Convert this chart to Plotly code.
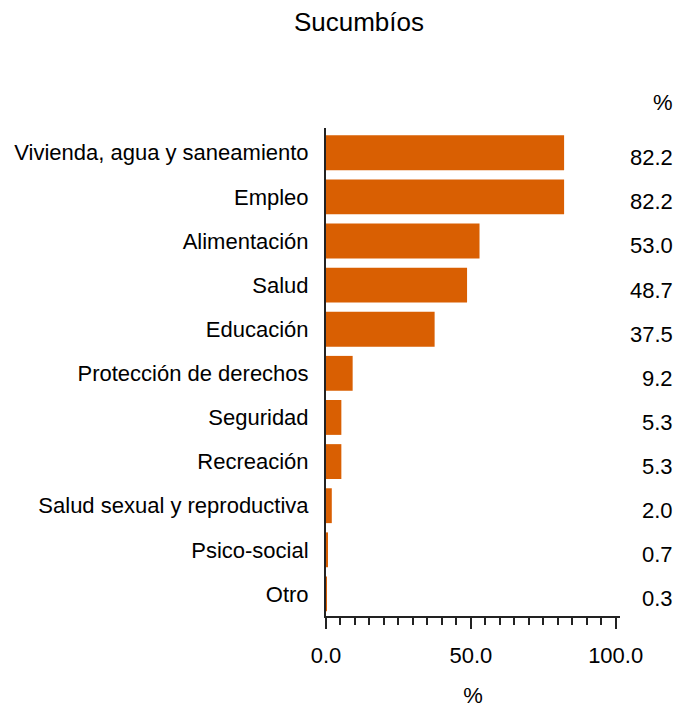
import plotly.graph_objects as go

categories = ["Vivienda, agua y saneamiento", "Empleo", "Alimentación", "Salud", "Educación",
              "Protección de derechos", "Seguridad", "Recreación",
              "Salud sexual y reproductiva", "Psico-social", "Otro"]
values = [82.2, 82.2, 53.0, 48.7, 37.5, 9.2, 5.3, 5.3, 2.0, 0.7, 0.3]
value_labels = ["82.2", "82.2", "53.0", "48.7", "37.5", "9.2", "5.3", "5.3", "2.0", "0.7", "0.3"]
x_ticks = [0, 50, 100]
x_ticktext = ["0.0", "50.0", "100.0"]
title_text = "Sucumbíos"
unit = "%"

FONT = "Liberation Sans, Arial, sans-serif"
FS = 22
W, H = 680, 708
L, R, T, B = 326, 60, 128, 92
pw = W - L - R

fig = go.Figure(go.Bar(
    x=values, y=categories, orientation="h",
    marker=dict(color="#D95F02", line=dict(width=0)),
    width=0.79,
))

annotations = []
for c, lab in zip(categories, value_labels):
    annotations.append(dict(
        x=(675 - L) / pw, xref="paper", xanchor="right",
        y=c, yref="y", yanchor="middle", yshift=-5,
        text=lab, showarrow=False, font=dict(family=FONT, size=FS, color="#000"),
    ))
annotations.append(dict(
    x=(675 - L) / pw, xref="paper", xanchor="right",
    y=1 + (T - 103) / (H - T - B), yref="paper", yanchor="middle",
    text=unit, showarrow=False, font=dict(family=FONT, size=FS, color="#000"),
))

fig.update_layout(
    width=W, height=H,
    margin=dict(l=L, r=R, t=T, b=B, pad=0, autoexpand=False),
    plot_bgcolor="white", paper_bgcolor="white",
    font=dict(family=FONT, size=FS, color="#000"),
    showlegend=False,
    title=dict(text=title_text, x=359 / W, xanchor="center", xref="container",
               y=1 - 22 / H, yanchor="middle", yref="container",
               font=dict(family=FONT, size=26, color="#000")),
    xaxis=dict(
        range=[0, 101.5], tickvals=x_ticks, ticktext=x_ticktext,
        showgrid=False, zeroline=False, automargin=False,
        showline=True, linecolor="#222", linewidth=2,
        ticks="outside", ticklen=11, tickwidth=2, tickcolor="#222",
        minor=dict(dtick=5, ticks="outside", ticklen=7, tickwidth=1.5, tickcolor="#222", showgrid=False),
        ticklabelstandoff=8,
        tickfont=dict(family=FONT, size=FS, color="#000"),
        title=dict(text=unit, standoff=37, font=dict(family=FONT, size=FS, color="#000")),
    ),
    yaxis=dict(
        categoryorder="array", categoryarray=categories,
        autorange=False, range=[10.5, -0.56], automargin=False,
        showgrid=False, zeroline=False,
        showline=True, linecolor="#222", linewidth=2,
        ticks="", ticklabelstandoff=11,
        tickfont=dict(family=FONT, size=FS, color="#000"),
    ),
    annotations=annotations,
    bargap=0.21,
)

fig.write_html("out.html", config={"displayModeBar": False},
               post_script="document.body.style.margin='0';document.body.style.padding='0';")
